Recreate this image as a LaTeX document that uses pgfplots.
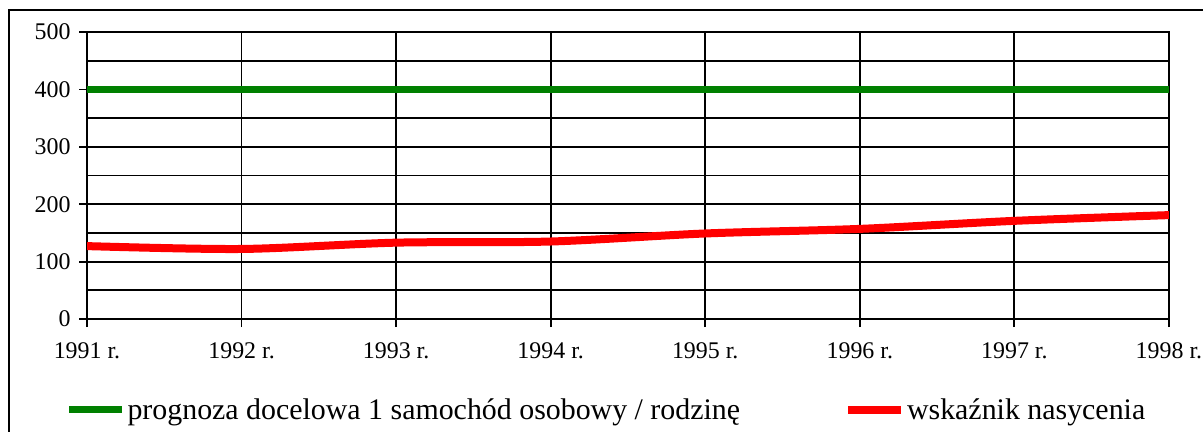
\documentclass[border=0pt]{standalone}
\usepackage{fontspec}
\setmainfont{Liberation Serif}
\usepackage{pgfplots}
\pgfplotsset{compat=1.18}
\definecolor{mygreen}{RGB}{0,128,0}
\begin{document}
\begin{tikzpicture}
\begin{axis}[
  at={(87bp,113bp)}, anchor=south west,
  scale only axis, width=1082bp, height=287bp,
  xmin=1991, xmax=1998, ymin=0, ymax=500,
  xtick={1991,1992,1993,1994,1995,1996,1997,1998},
  xticklabels={1991 r.,1992 r.,1993 r.,1994 r.,1995 r.,1996 r.,1997 r.,1998 r.},
  ytick={0,100,200,300,400,500},
  minor ytick={50,150,250,350,450},
  grid=both,
  major grid style={black, line width=1.8bp},
  minor grid style={black, line width=1.8bp},
  axis line style={black, line width=1.8bp},
  tick style={black, line width=1.8bp},
  tick align=outside, tick pos=left,
  major tick length=8bp, minor tick length=0bp,
  tick label style={font=\fontsize{24}{28}\selectfont},
  xticklabel style={yshift=-12bp},
  yticklabel style={xshift=-5bp},
  /pgf/number format/assume math mode=true,
  legend columns=2,
  legend style={draw=none, fill=none, font=\fontsize{30}{34}\selectfont,
    at={(-0.02,-0.317)}, anchor=west, inner sep=0pt,
    /tikz/every even column/.append style={column sep=102bp}},
  legend image code/.code={\draw[#1] (0bp,0bp) -- (53bp,0bp);},
]
\addplot[color=mygreen, line width=7bp] coordinates {(1991,400) (1998,400)};
\addlegendentry{prognoza docelowa 1 samochód osobowy / rodzinę}
\addplot[color=red, line width=8bp, smooth] coordinates {(1991,127) (1992,122) (1993,133) (1994,135) (1995,149) (1996,157) (1997,171) (1998,181)};
\addlegendentry{wskaźnik nasycenia}
\end{axis}
\draw[line width=2bp] (9bp,-10bp) -- (9bp,422bp) -- (1215bp,422bp);
\pgfresetboundingbox
\useasboundingbox (0bp,0bp) rectangle (1203bp,432bp);
\end{tikzpicture}
\end{document}
